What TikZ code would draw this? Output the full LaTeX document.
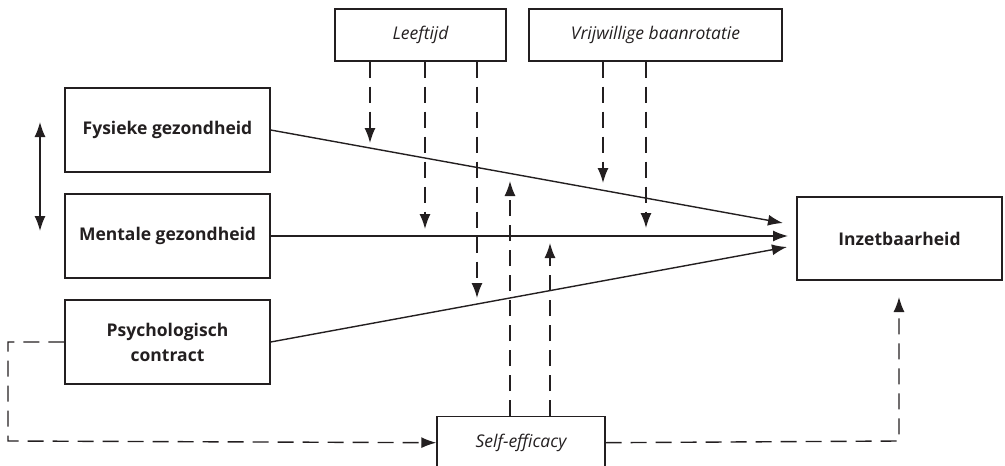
\documentclass[tikz,border=0pt]{standalone}
\usepackage{fontspec}
\setmainfont{Open Sans}
\usetikzlibrary{arrows.meta}
\definecolor{ink}{HTML}{231F20}
\tikzset{
  box/.style={draw=ink, line width=1.4pt, rectangle, inner sep=0pt, align=center, text=ink},
  solidarr/.style={draw=ink, line width=1.4pt, -{Latex[length=15pt,width=11pt]}},
  dasharr/.style={draw=ink, line width=1.4pt, dash pattern=on 16pt off 9pt, -{Latex[length=15pt,width=11pt]}},
  bf/.style={font=\fontsize{17.5}{25}\selectfont\bfseries},
  it/.style={font=\fontsize{17.5}{20}\selectfont\itshape},
}
\begin{document}
\begin{tikzpicture}[x=1pt,y=-1pt]
\useasboundingbox (0,0) rectangle (1005,466);
% boxes
\node[box, bf, minimum width=205pt, minimum height=84pt] (fys) at (167.5,130) {Fysieke gezondheid};
\node[box, bf, minimum width=205pt, minimum height=84pt] (men) at (167.5,236) {Mentale gezondheid};
\node[box, bf, minimum width=205pt, minimum height=84pt] (psy) at (167.5,342) {Psychologisch\\contract};
\node[box, bf, minimum width=205pt, minimum height=83pt] (inz) at (899.5,238.5) {Inzetbaarheid};
\node[box, it, minimum width=171pt, minimum height=52pt] (lee) at (420.5,35) {Leeftijd};
\node[box, it, minimum width=253pt, minimum height=52pt] (vri) at (655.5,35) {Vrijwillige baanrotatie};
\node[box, it, minimum width=168pt, minimum height=52pt, anchor=north] (sel) at (521,416) {Self-efficacy};
% arrow end coordinates
\coordinate (e1) at (783,223);
\coordinate (e2) at (788,236);
\coordinate (e3) at (787,247);
% main paths
\draw[solidarr] (fys.east) -- (e1);
\draw[solidarr] (men.east) -- (e2);
\draw[solidarr] (psy.east) -- (e3);
% double arrow
\coordinate (da1) at (40,122);
\coordinate (da2) at (40,231);
\draw[draw=ink, line width=1.4pt, {Latex[length=15pt,width=11pt]}-{Latex[length=15pt,width=11pt]}] (da1) -- (da2);
% moderators from Leeftijd
\coordinate (l1) at (370,143);
\coordinate (l2) at (425,229);
\coordinate (l3) at (477,298);
\draw[dasharr] (l1 |- lee.south) -- (l1);
\draw[dasharr] (l2 |- lee.south) -- (l2);
\draw[dasharr] (l3 |- lee.south) -- (l3);
% moderators from Vrijwillige baanrotatie
\coordinate (v1) at (603,183);
\coordinate (v2) at (646,228);
\draw[dasharr] (v1 |- vri.south) -- (v1);
\draw[dasharr] (v2 |- vri.south) -- (v2);
% from self-efficacy up
\coordinate (s1) at (510,181);
\coordinate (s2) at (550,243);
\draw[dasharr] (s1 |- sel.north) -- (s1);
\draw[dasharr] (s2 |- sel.north) -- (s2);
% feedback psy -> self-efficacy
\coordinate (c1) at (8,342);
\coordinate (c2) at (8,441);
\draw[dasharr] (psy.west) -- (c1) -- (c2) -- (sel.west);
% self-efficacy -> Inzetbaarheid
\coordinate (c3) at (899,441);
\coordinate (c4) at (899,297);
\draw[dasharr] (sel.east) -- (c3) -- (c4);
\end{tikzpicture}
\end{document}
